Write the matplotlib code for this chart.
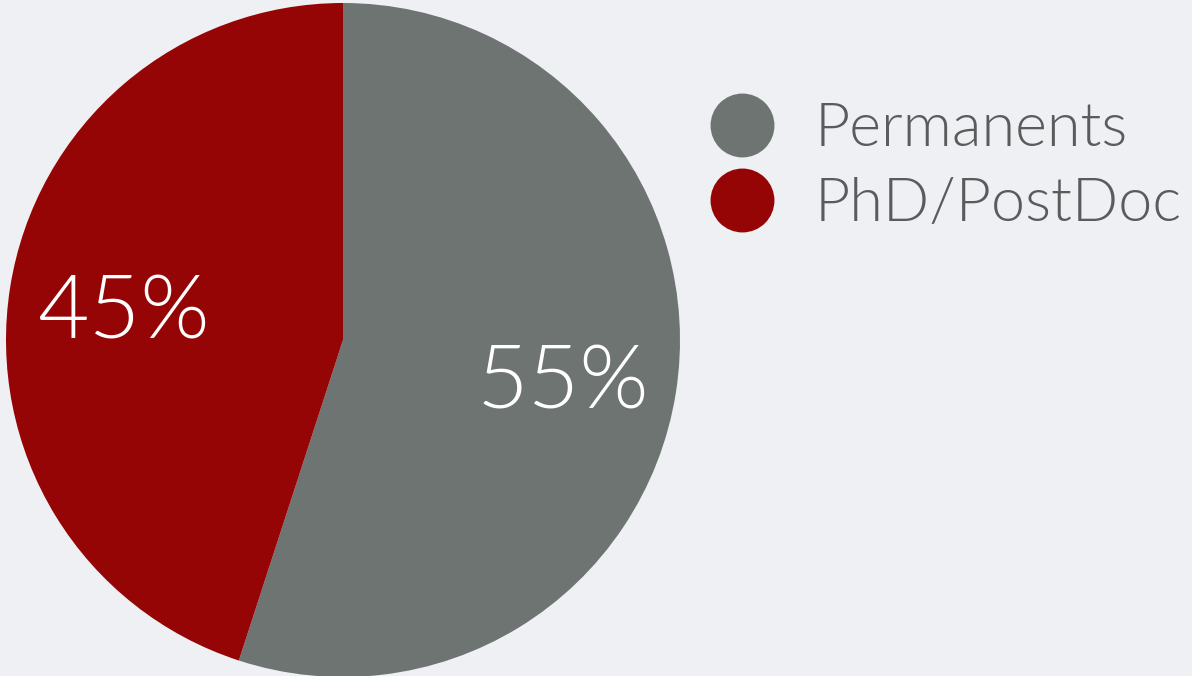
import matplotlib.pyplot as plt
from matplotlib.lines import Line2D

# staff split
labels = ['Permanents', 'PhD/PostDoc']
shares = [55, 45]
colors = ['#6e7471', '#960505']

bg = '#eef0f4'

fig = plt.figure(figsize=(11.92, 6.76), dpi=100, facecolor=bg)
ax = fig.add_axes([0, 0, 1, 1])
ax.set_facecolor(bg)

wedges, texts, autotexts = ax.pie(
    shares,
    colors=colors,
    startangle=90,
    counterclock=False,
    center=(343, 336),
    radius=337,
    autopct='%d%%',
    pctdistance=0.66,
    frame=True,
    wedgeprops=dict(linewidth=0),
    textprops=dict(color='white', fontsize=64, family='Lato', fontweight=300),
)
# nudge the percent labels down a little
for t in autotexts:
    x, y = t.get_position()
    t.set_position((x, y - 9))

ax.set_xlim(0, 1192)
ax.set_ylim(0, 676)
ax.axis('off')

handles = [Line2D([], [], marker='o', ls='', markersize=46, color=c, markeredgewidth=0)
           for c in colors]
leg = ax.legend(handles, labels, loc='upper left',
                bbox_to_anchor=(705 / 1192, 1 - 102 / 676),
                frameon=False, borderpad=0, borderaxespad=0,
                handlelength=1.2, handletextpad=0.6, labelspacing=0.33,
                prop=dict(family='Lato', weight=300, size=44))
for t in leg.get_texts():
    t.set_color('#5a5c5c')

fig.savefig('out.png', dpi=100, facecolor=bg)
